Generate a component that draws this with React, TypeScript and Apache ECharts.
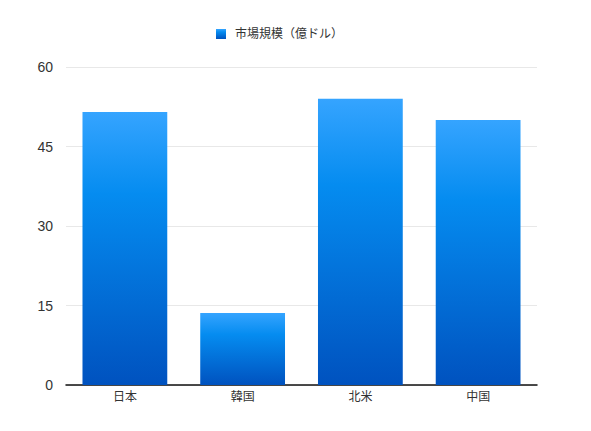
import React, { useEffect, useRef } from "react";
import * as echarts from "echarts";

const categories = ["日本", "韓国", "北米", "中国"];
const marketSize = [51.5, 13.6, 54.0, 50.0];
const seriesName = "市場規模（億ドル）";
const fontFamily = "'Liberation Sans', 'Noto Sans CJK JP', sans-serif";

const App: React.FC = () => {
  const chartRef = useRef<HTMLDivElement>(null);

  useEffect(() => {
    if (!chartRef.current) return;
    const chart = echarts.init(chartRef.current, null, { renderer: "svg" });

    const barGradient = new echarts.graphic.LinearGradient(0, 0, 0, 1, [
      { offset: 0, color: "#35a4ff" },
      { offset: 0.3, color: "#058cf0" },
      { offset: 1, color: "#0052bf" },
    ]);

    chart.setOption({
      animation: false,
      textStyle: { fontFamily },
      legend: {
        top: 23,
        left: 211,
        itemWidth: 10,
        itemHeight: 10,
        icon: "rect",
        textStyle: { fontSize: 12, color: "#333", padding: [0, 0, 0, 4] },
        data: [seriesName],
      },
      grid: { left: 66, right: 54, top: 67, bottom: 46, containLabel: false },
      xAxis: {
        type: "category",
        data: categories,
        axisTick: { show: false },
        axisLine: { lineStyle: { color: "#111", width: 1.5 } },
        axisLabel: { color: "#333", fontSize: 12, margin: 6 },
      },
      yAxis: {
        type: "value",
        min: 0,
        max: 60,
        interval: 15,
        axisLine: { show: false },
        axisTick: { show: false },
        axisLabel: { color: "#333", fontSize: 14, margin: 13 },
        splitLine: { lineStyle: { color: "#e8e8e8" } },
      },
      series: [
        {
          name: seriesName,
          type: "bar",
          data: marketSize,
          barCategoryGap: "28%",
          itemStyle: { color: barGradient },
        },
      ],
    });

    return () => {
      chart.dispose();
    };
  }, []);

  return (
    <div
      ref={chartRef}
      style={{ position: "fixed", left: 0, top: 0, width: "591px", height: "431px", background: "#fff" }}
    />
  );
};

export default App;
